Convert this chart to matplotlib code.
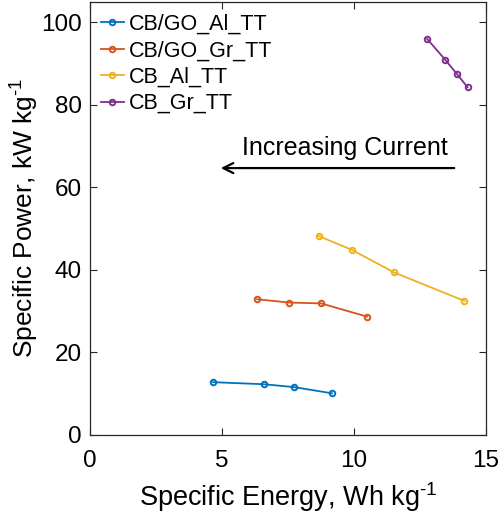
import matplotlib
matplotlib.use('Agg')
import matplotlib.pyplot as plt

plt.rcParams['font.family'] = ['Liberation Sans', 'DejaVu Sans']
plt.rcParams['mathtext.fontset'] = 'custom'
plt.rcParams['mathtext.rm'] = 'Liberation Sans'

# 데이터
labels = ['CB/GO_Al_TT', 'CB/GO_Gr_TT', 'CB_Al_TT', 'CB_Gr_TT']
colors = ['#0072BD', '#D95319', '#EDB120', '#7E2F8E']

energy_go_al = [4.66, 6.59, 7.73, 9.17]
power_go_al = [12.8, 12.3, 11.6, 10.1]

energy_go_gr = [6.33, 7.54, 8.75, 10.49]
power_go_gr = [32.9, 32.1, 31.9, 28.7]

energy_cb_al = [8.67, 9.91, 11.52, 14.18]
power_cb_al = [48.2, 44.9, 39.4, 32.5]

energy_cb_gr = [12.77, 13.45, 13.9, 14.3]
power_cb_gr = [96.0, 91.0, 87.5, 84.3]

energies = [energy_go_al, energy_go_gr, energy_cb_al, energy_cb_gr]
powers = [power_go_al, power_go_gr, power_cb_al, power_cb_gr]

fig = plt.figure(figsize=(5, 5.2), dpi=100)
ax = fig.add_axes([0.18, 0.1635, 0.792, 0.833])

for e, p, c, lab in zip(energies, powers, colors, labels):
    ax.plot(e, p, '-o', color=c, lw=1.3, ms=4, mfc='none', mew=1.4, label=lab)

# 화살표 + 텍스트
ax.annotate('', xy=(4.85, 64.7), xytext=(13.9, 64.7),
            arrowprops=dict(arrowstyle='->', color='black', lw=1.6, mutation_scale=18))
ax.text(9.66, 67.8, 'Increasing Current', fontsize=18, ha='center', va='baseline')

ax.set_xlim(0, 15)
ax.set_ylim(0, 105)
ax.set_xticks([0, 5, 10, 15])
ax.set_yticks([0, 20, 40, 60, 80, 100])
ax.tick_params(direction='in', length=5, width=0.8, top=True, right=True,
               labelsize=17.5, colors='#262626', labelcolor='black')
ax.tick_params(axis='x', pad=11)
ax.tick_params(axis='y', pad=6)
for s in ax.spines.values():
    s.set_color('#262626')
    s.set_linewidth(0.9)

ax.set_xlabel(r'Specific Energy, Wh kg$^{\text{-1}}$', fontsize=19.5, labelpad=6)
ax.set_ylabel(r'Specific Power, kW kg$^{\text{-1}}$', fontsize=19, labelpad=1)

ax.legend(loc='upper left', bbox_to_anchor=(0.005, 0.992), frameon=False,
          fontsize=15.5, handlelength=1.1, handletextpad=0.2,
          borderaxespad=0.1, labelspacing=0.25, borderpad=0.3)

fig.savefig('out.png', dpi=100)
